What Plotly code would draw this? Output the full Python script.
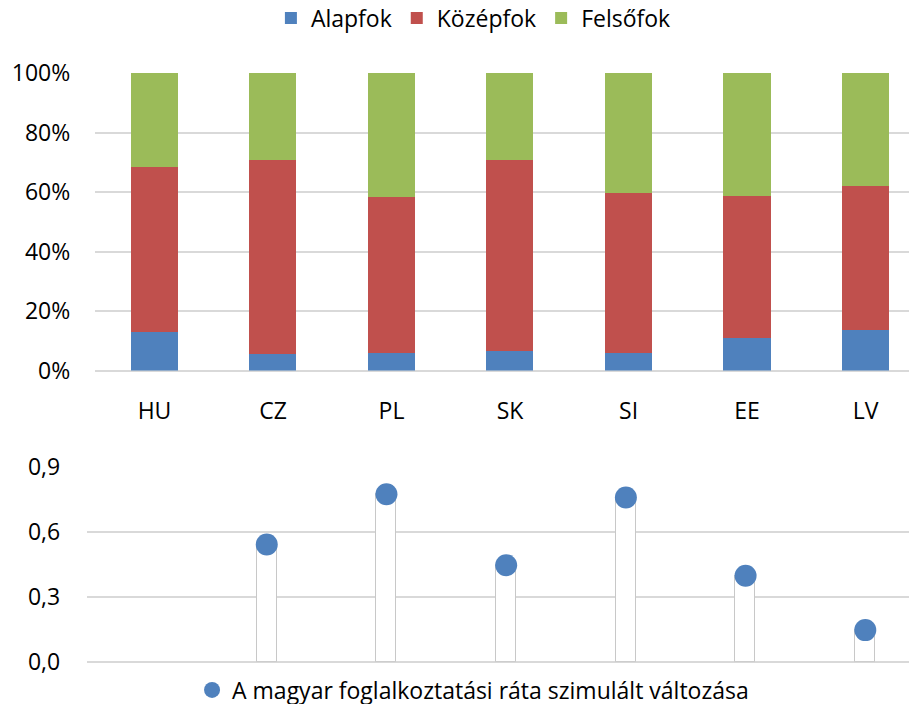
import plotly.graph_objects as go

# Countries and education shares (%)
countries = ["HU", "CZ", "PL", "SK", "SI", "EE", "LV"]
alapfok = [13.1, 5.6, 5.9, 6.6, 5.9, 11.0, 13.7]
kozepfok = [55.4, 65.1, 52.5, 64.1, 53.7, 47.7, 48.3]
felsofok = [31.5, 29.3, 41.6, 29.3, 40.4, 41.3, 38.0]

# Simulated change of the Hungarian employment rate (no value for HU)
valtozas = [None, 0.542, 0.774, 0.446, 0.759, 0.397, 0.146]

BLUE = "#4F81BD"
RED = "#C0504D"
GREEN = "#9BBB59"
GRID = "#D9D9D9"
FONT = "Open Sans"

# page body has an 8px margin, so the figure is a bit smaller than the window
W, H = 909, 696

fig = go.Figure()

# Stacked 100% bars (top)
for name, vals, col in [("Alapfok", alapfok, BLUE),
                        ("Középfok", kozepfok, RED),
                        ("Felsőfok", felsofok, GREEN)]:
    fig.add_trace(go.Bar(
        x=countries, y=[v / 100 for v in vals],
        name=name, marker=dict(color=col, line=dict(width=0)),
        width=0.4, xaxis="x", yaxis="y", legend="legend"
    ))

# Lollipop-like bars + markers (bottom)
fig.add_trace(go.Bar(
    x=countries, y=valtozas, width=0.167,
    marker=dict(color="white", line=dict(color="#C8C8C8", width=1.5)),
    showlegend=False, xaxis="x2", yaxis="y2"
))
fig.add_trace(go.Scatter(
    x=countries, y=valtozas, mode="markers",
    name="A magyar foglalkoztatási ráta szimulált változása",
    marker=dict(color=BLUE, size=22),
    cliponaxis=False, xaxis="x2", yaxis="y2", legend="legend2"
))

fig.update_layout(
    width=W, height=H,
    margin=dict(l=0, r=0, t=0, b=0, autoexpand=False),
    paper_bgcolor="white", plot_bgcolor="white",
    font=dict(family=FONT, size=23, color="#000000"),
    separators=", ",
    barmode="stack",
    xaxis=dict(domain=[87.25 / W, 1], range=[-0.5, 6.434], anchor="y",
               showgrid=False, showline=False, zeroline=False,
               ticks="", ticklabelstandoff=24),
    yaxis=dict(domain=[1 - 362.5 / H, 1 - 65 / H], range=[0, 1],
               tickvals=[0, 0.2, 0.4, 0.6, 0.8, 1.0], tickformat=".0%",
               showgrid=True, gridcolor=GRID, gridwidth=2,
               zeroline=True, zerolinecolor=GRID, zerolinewidth=2,
               showline=False, ticks="", ticklabelstandoff=24, anchor="x"),
    xaxis2=dict(domain=[79.2 / W, 1], range=[-0.5, 6.432], anchor="y2",
                showgrid=False, showline=False, zeroline=False,
                showticklabels=False, ticks=""),
    yaxis2=dict(domain=[1 - 653.7 / H, 1 - 459 / H], range=[0, 0.9],
                tickvals=[0, 0.3, 0.6, 0.9], tickformat=".1f",
                showgrid=True, gridcolor=GRID, gridwidth=2,
                zeroline=True, zerolinecolor=GRID, zerolinewidth=2,
                showline=False, ticks="", ticklabelstandoff=26, anchor="x2"),
    legend=dict(orientation="h", x=0.512, xanchor="center",
                y=1 - 10 / H, yanchor="middle",
                font=dict(family=FONT, size=23), bgcolor="rgba(0,0,0,0)",
                traceorder="normal"),
    legend2=dict(orientation="h", x=0.5116, xanchor="center",
                 y=1 - 682 / H, yanchor="middle",
                 font=dict(family=FONT, size=23), bgcolor="rgba(0,0,0,0)"),
    bargap=0, showlegend=True,
)

fig.write_html("out.html")
